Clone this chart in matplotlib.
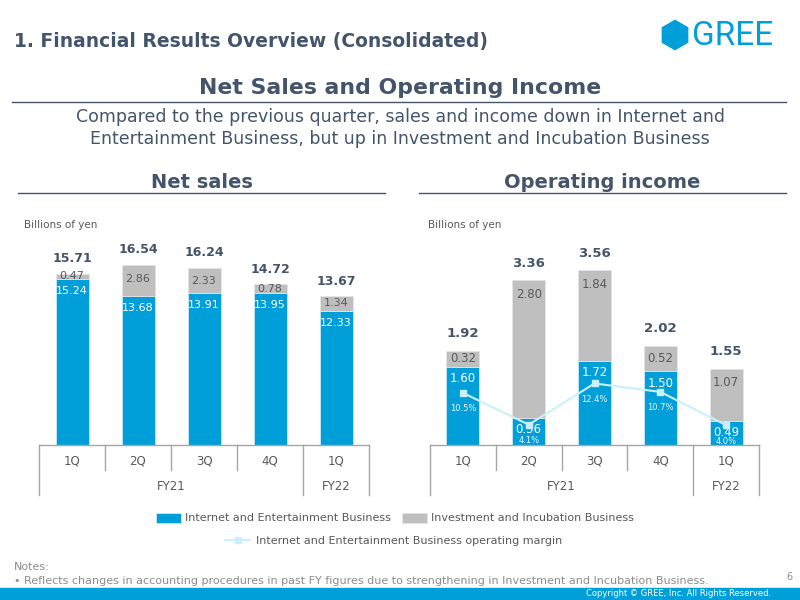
import matplotlib
matplotlib.use("Agg")
import matplotlib.pyplot as plt
import matplotlib.transforms as mtransforms
from matplotlib.patches import Rectangle, RegularPolygon
from matplotlib.lines import Line2D

plt.rcParams["font.family"] = ["DejaVu Sans"]

# ========= data =========
quarters = ["1Q", "2Q", "3Q", "4Q", "1Q"]
fy_groups = [("FY21", 0, 3), ("FY22", 4, 4)]

sales_ie = [15.24, 13.68, 13.91, 13.95, 12.33]
sales_ii = [0.47, 2.86, 2.33, 0.78, 1.34]
sales_total = [15.71, 16.54, 16.24, 14.72, 13.67]

oi_ie = [1.60, 0.56, 1.72, 1.50, 0.49]
oi_ii = [0.32, 2.80, 1.84, 0.52, 1.07]
oi_total = [1.92, 3.36, 3.56, 2.02, 1.55]
oi_margin = [10.5, 4.1, 12.4, 10.7, 4.0]

# ========= colours =========
BLUE = "#009fda"
GRAY = "#bfbfbf"
LINE = "#c8f0ff"
DARK = "#44546a"
TXT = "#595959"
AXC = "#a6a6a6"

W, H = 800, 600


def fx(px):
    return px / W


def fy(py):
    return 1 - py / H


fig = plt.figure(figsize=(8, 6), dpi=100)
fig.patch.set_facecolor("white")

# ========= header =========
fig.text(fx(14), fy(42), "1. Financial Results Overview (Consolidated)",
         fontsize=13.5, fontweight="bold", color=DARK, va="center", ha="left")

logo_ax = fig.add_axes([fx(660), fy(52), 30 / W, 34 / H])
logo_ax.set_xlim(-1.15, 1.15)
logo_ax.set_ylim(-1.3, 1.3)
logo_ax.set_aspect("equal")
logo_ax.axis("off")
logo_ax.add_patch(RegularPolygon((0, 0), 6, radius=1.12, color=BLUE))
fig.text(fx(692), fy(36), "GREE", fontsize=24, color=BLUE, family="Roboto",
         va="center", ha="left")

fig.text(0.5, fy(88), "Net Sales and Operating Income", fontsize=15.8,
         fontweight="bold", color=DARK, ha="center", va="center")
fig.add_artist(Line2D([fx(12), fx(786)], [fy(102), fy(102)], color=DARK, lw=1))
fig.text(0.5, fy(128), "Compared to the previous quarter, sales and income down in Internet and\n"
         "Entertainment Business, but up in Investment and Incubation Business",
         fontsize=12.5, color=DARK, ha="center", va="center", linespacing=1.22)

fig.text(fx(202), fy(183), "Net sales", fontsize=14, fontweight="bold",
         color=DARK, ha="center", va="center")
fig.add_artist(Line2D([fx(18), fx(385)], [fy(193), fy(193)], color=DARK, lw=1))
fig.text(fx(602), fy(183), "Operating income", fontsize=14, fontweight="bold",
         color=DARK, ha="center", va="center")
fig.add_artist(Line2D([fx(419), fx(786)], [fy(193), fy(193)], color=DARK, lw=1))

fig.text(fx(24), fy(225), "Billions of yen", fontsize=7.5, color=TXT, va="center")
fig.text(fx(428), fy(225), "Billions of yen", fontsize=7.5, color=TXT, va="center")


# ========= charts =========
def draw_category_axis(ax):
    trans = mtransforms.blended_transform_factory(ax.transData, ax.transAxes)
    n = len(quarters)
    ax.plot([-0.5, n - 0.5], [0, 0], color=AXC, lw=1, transform=trans,
            clip_on=False, zorder=5)
    group_edges = {-0.5, n - 0.5}
    for _, a, b in fy_groups:
        group_edges.add(a - 0.5)
        group_edges.add(b + 0.5)
    for i in range(n + 1):
        xe = i - 0.5
        bottom = -0.25 if xe in group_edges else -0.125
        ax.plot([xe, xe], [0, bottom], color=AXC, lw=1, transform=trans, clip_on=False)
    for i, q in enumerate(quarters):
        ax.text(i, -0.08, q, transform=trans, ha="center", va="center",
                fontsize=8.5, color=TXT)
    for name, a, b in fy_groups:
        ax.text((a + b) / 2, -0.205, name, transform=trans, ha="center",
                va="center", fontsize=8.5, color=TXT)


def draw_chart(ax, ie, ii, total, ymax, total_off, fs):
    x = list(range(len(quarters)))
    ax.set_xlim(-0.5, len(quarters) - 0.5)
    ax.set_ylim(0, ymax)
    b1 = ax.bar(x, ie, width=0.5, color=BLUE, edgecolor="#d9eef8", linewidth=0.5,
                label="Internet and Entertainment Business", zorder=2)
    b2 = ax.bar(x, ii, width=0.5, bottom=ie, color=GRAY, edgecolor="#e6e6e6",
                linewidth=0.5, label="Investment and Incubation Business", zorder=2)
    ppu = 200 / ymax  # pixels per unit
    for i in x:
        top = ie[i] + ii[i]
        # gray segment label
        off = min(14 / ppu, ii[i] / 2)
        ax.text(i, top - off, f"{ii[i]:.2f}", ha="center", va="center",
                fontsize=fs, color=TXT, zorder=4)
        # blue segment label
        ax.text(i, ie[i] - 12 / ppu, f"{ie[i]:.2f}", ha="center", va="center",
                fontsize=fs, color="white", zorder=4)
        # total
        ax.text(i, top + total_off / ppu, f"{total[i]:.2f}", ha="center",
                va="center", fontsize=fs + 1, fontweight="bold", color=DARK)
    ax.axis("off")
    draw_category_axis(ax)
    return b1, b2


ax1 = fig.add_axes([fx(39), fy(445), 330 / W, 200 / H])
draw_chart(ax1, sales_ie, sales_ii, sales_total, 18.35, 15, 8)

ax2 = fig.add_axes([fx(430), fy(445), 329 / W, 200 / H])
h1, h2 = draw_chart(ax2, oi_ie, oi_ii, oi_total, 4.08, 17, 8.5)

ax3 = ax2.twinx()
ax3.set_ylim(0, 40.3)
ax3.axis("off")
ln, = ax3.plot(range(len(quarters)), oi_margin, color=LINE, lw=1.5, marker="s",
               markersize=5, markerfacecolor=LINE, markeredgecolor=LINE,
               label="Internet and Entertainment Business operating margin", zorder=3)
for i, m in enumerate(oi_margin):
    ax3.text(i, m - 16 / 4.96, f"{m:.1f}%", ha="center", va="center",
             fontsize=6, color="#e8f8ff")

# ========= legend =========
leg1 = fig.legend(handles=[h1, h2], loc="center", bbox_to_anchor=(fx(395), fy(518)),
                  ncol=2, frameon=False, fontsize=8, handlelength=2.2,
                  handleheight=1.0, columnspacing=1.0, handletextpad=0.4)
for t in leg1.get_texts():
    t.set_color(TXT)
leg2 = fig.legend(handles=[ln], loc="center", bbox_to_anchor=(fx(394), fy(541)),
                  frameon=False, fontsize=8, handlelength=2.2, handletextpad=0.6)
for t in leg2.get_texts():
    t.set_color(TXT)

# ========= notes / footer =========
fig.text(fx(14), fy(567), "Notes:", fontsize=8, color="#8c8c8c", va="center")
fig.text(fx(14), fy(581), "\u2022 Reflects changes in accounting procedures in past FY figures "
         "due to strengthening in Investment and Incubation Business.",
         fontsize=8, color="#8c8c8c", va="center")
fig.text(fx(789), fy(577), "6", fontsize=7, color="#8c8c8c", va="center", ha="center")
fig.add_artist(Rectangle((0, 0), 1, 12 / H, transform=fig.transFigure,
                         color=BLUE, zorder=0))
fig.text(fx(771), fy(594), "Copyright \u00a9 GREE, Inc. All Rights Reserved.",
         fontsize=6, color="white", va="center", ha="right")

fig.savefig("out.png", dpi=100)
